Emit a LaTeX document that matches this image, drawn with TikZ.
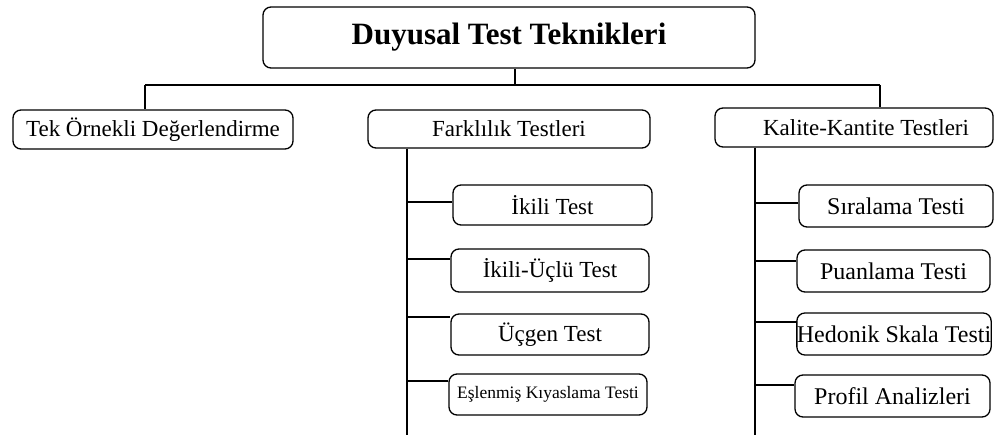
\documentclass[tikz,border=0pt]{standalone}
\usepackage{fontspec}
\setmainfont{Liberation Serif}
\usepackage{tikz}
\usetikzlibrary{calc}
\usetikzlibrary{positioning}
\tikzset{>=latex}
\tikzstyle{kutu} = [rectangle, rounded corners=8pt, draw=black, line width=1.3pt, inner sep=0pt, font=\fontsize{23}{27}\selectfont]
\tikzstyle{hat} = [-, draw=black, line width=1.3pt]

\begin{document}
\begin{tikzpicture}[x=1pt, y=-1pt]
\useasboundingbox (0, 0) rectangle (995, 435);
\node [kutu, minimum width=492pt, minimum height=61pt, font=\fontsize{31}{36}\selectfont\bfseries] (DTT) at (509, 37.5) {Duyusal Test Teknikleri};
\node [kutu, minimum width=280pt, minimum height=39pt] (TEK) at (153, 129.5) {Tek Örnekli Değerlendirme};
\node [kutu, minimum width=282pt, minimum height=38pt] (FARK) at (509, 129) {Farklılık Testleri};
\node [kutu, minimum width=278pt, minimum height=39pt] (KK) at (854, 127.5) {\hspace{24pt}Kalite-Kantite Testleri};
% farklilik testleri
\node [kutu, minimum width=199pt, minimum height=40pt] (IKILI) at (552.5, 205) {İkili Test};
\node [kutu, minimum width=198pt, minimum height=43pt] (IU) at (550, 270.5) {İkili-Üçlü Test};
\node [kutu, minimum width=198pt, minimum height=41pt] (UCGEN) at (550, 334.5) {Üçgen Test};
\node [kutu, minimum width=198pt, minimum height=41pt, font=\fontsize{17.5}{20}\selectfont] (ESL) at (548, 394.5) {Eşlenmiş Kıyaslama Testi};
% kalite-kantite testleri
\node [kutu, minimum width=194pt, minimum height=42pt, font=\fontsize{24}{28}\selectfont] (SIRA) at (896, 206) {Sıralama Testi};
\node [kutu, minimum width=193pt, minimum height=42pt, font=\fontsize{24}{28}\selectfont] (PUAN) at (893.5, 271) {Puanlama Testi};
\node [kutu, minimum width=194pt, minimum height=42pt, font=\fontsize{24}{28}\selectfont] (HED) at (894, 334) {Hedonik Skala Testi};
\node [kutu, minimum width=195pt, minimum height=42pt, font=\fontsize{24}{28}\selectfont] (PROF) at (892.5, 396) {Profil Analizleri};
% ana hat
\coordinate (busL) at (145, 85);
\coordinate (busM) at (515, 85);
\coordinate (busR) at (880, 85);
\draw [hat] (busL) to (busR);
\draw [hat] (busM) to (busM |- DTT.south);
\draw [hat] (busL) to (busL |- TEK.north);
\draw [hat] (busR) to (busR |- KK.north);
% dikey hatlar
\coordinate (farkEnd) at (407, 435);
\coordinate (kkEnd) at (755, 435);
\draw [hat] (farkEnd |- FARK.south) to (farkEnd);
\draw [hat] (kkEnd |- KK.south) to (kkEnd);
\foreach \n/\d in {IKILI/3, IU/11.5, UCGEN/17.5, ESL/13.5} {
  \coordinate (c\n) at ([yshift=\d pt]\n.west);
  \draw [hat] (farkEnd |- c\n) to (c\n);
}
\foreach \n/\d in {SIRA/3, PUAN/10, HED/12, PROF/11} {
  \coordinate (c\n) at ([yshift=\d pt]\n.west);
  \draw [hat] (kkEnd |- c\n) to (c\n);
}
\end{tikzpicture}
\end{document}
